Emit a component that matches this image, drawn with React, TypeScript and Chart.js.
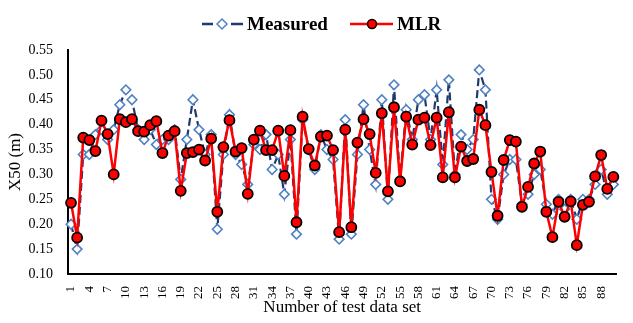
import React, { useEffect, useRef } from "react";
import { Chart, registerables } from "chart.js";
Chart.register(...registerables);

const categories: string[] = Array.from({ length: 90 }, (_, i) => String(i + 1));

const measured: number[] = [
  0.20, 0.15, 0.34, 0.34, 0.38, 0.39, 0.37, 0.39, 0.44, 0.47,
  0.45, 0.39, 0.37, 0.39, 0.36, 0.37, 0.37, 0.39, 0.29, 0.37,
  0.45, 0.39, 0.34, 0.38, 0.19, 0.34, 0.42, 0.34, 0.32, 0.28,
  0.36, 0.35, 0.38, 0.31, 0.34, 0.26, 0.37, 0.18, 0.41, 0.35,
  0.31, 0.38, 0.35, 0.33, 0.17, 0.41, 0.18, 0.34, 0.44, 0.35,
  0.28, 0.45, 0.25, 0.48, 0.29, 0.43, 0.37, 0.45, 0.46, 0.37,
  0.47, 0.32, 0.49, 0.30, 0.38, 0.35, 0.37, 0.51, 0.47, 0.25,
  0.21, 0.30, 0.33, 0.33, 0.24, 0.26, 0.30, 0.31, 0.24, 0.22,
  0.25, 0.23, 0.25, 0.21, 0.25, 0.25, 0.28, 0.31, 0.26, 0.28,
];

const mlr: number[] = [
  0.243, 0.173, 0.374, 0.369, 0.347, 0.408, 0.381, 0.300, 0.411, 0.405,
  0.411, 0.387, 0.386, 0.399, 0.407, 0.343, 0.378, 0.387, 0.267, 0.343,
  0.345, 0.350, 0.328, 0.372, 0.225, 0.355, 0.409, 0.346, 0.353, 0.261,
  0.370, 0.388, 0.349, 0.349, 0.388, 0.297, 0.389, 0.204, 0.416, 0.351,
  0.318, 0.376, 0.378, 0.349, 0.184, 0.390, 0.194, 0.364, 0.411, 0.381,
  0.303, 0.423, 0.266, 0.435, 0.286, 0.416, 0.360, 0.410, 0.414, 0.359,
  0.414, 0.294, 0.425, 0.294, 0.356, 0.327, 0.331, 0.430, 0.399, 0.305,
  0.217, 0.329, 0.369, 0.366, 0.235, 0.275, 0.322, 0.346, 0.225, 0.174,
  0.245, 0.215, 0.246, 0.158, 0.239, 0.245, 0.296, 0.339, 0.271, 0.295,
];

const seriesNames = ["Measured", "MLR"];
const yMin = 0.1;
const yMax = 0.55;
const yStep = 0.05;

const NAVY = "#1f3a6e";
const DIAMOND = "#4f81c4";
const RED = "#ff0000";
const FONT = "'Liberation Serif', 'Times New Roman', serif";

const legendPlugin = {
  id: "customLegend",
  afterDraw(chart: any) {
    const ctx = chart.ctx as CanvasRenderingContext2D;
    const cy = 24;
    ctx.save();
    ctx.strokeStyle = NAVY;
    ctx.lineWidth = 2.5;
    ctx.beginPath();
    ctx.moveTo(202, cy);
    ctx.lineTo(213, cy);
    ctx.moveTo(231, cy);
    ctx.lineTo(243, cy);
    ctx.stroke();
    ctx.strokeStyle = DIAMOND;
    ctx.lineWidth = 1.5;
    ctx.fillStyle = "#ffffff";
    ctx.beginPath();
    ctx.moveTo(222, cy - 5);
    ctx.lineTo(227, cy);
    ctx.lineTo(222, cy + 5);
    ctx.lineTo(217, cy);
    ctx.closePath();
    ctx.fill();
    ctx.stroke();
    ctx.fillStyle = "#000000";
    ctx.font = `bold 19px ${FONT}`;
    ctx.textBaseline = "middle";
    ctx.textAlign = "left";
    ctx.fillText(seriesNames[0], 247, cy + 1);
    ctx.strokeStyle = RED;
    ctx.lineWidth = 2.5;
    ctx.beginPath();
    ctx.moveTo(350, cy);
    ctx.lineTo(393, cy);
    ctx.stroke();
    ctx.fillStyle = RED;
    ctx.strokeStyle = "#000000";
    ctx.lineWidth = 1.5;
    ctx.beginPath();
    ctx.arc(372, cy, 4.5, 0, Math.PI * 2);
    ctx.fill();
    ctx.stroke();
    ctx.fillStyle = "#000000";
    ctx.fillText(seriesNames[1], 397, cy + 1);
    ctx.restore();
  },
};

export default function App() {
  const ref = useRef<HTMLCanvasElement>(null);
  useEffect(() => {
    const chart = new Chart(ref.current!, {
      type: "line",
      data: {
        labels: categories,
        datasets: [
          {
            label: seriesNames[1],
            data: mlr,
            order: 0,
            borderColor: RED,
            borderWidth: 2.5,
            pointStyle: "circle",
            pointRadius: 5,
            pointBackgroundColor: RED,
            pointBorderColor: "#000000",
            pointBorderWidth: 1.8,
            tension: 0,
          },
          {
            label: seriesNames[0],
            data: measured,
            order: 1,
            borderColor: NAVY,
            borderWidth: 2.2,
            borderDash: [8, 4],
            pointStyle: "rectRot",
            pointRadius: 4.8,
            pointBackgroundColor: "#ffffff",
            pointBorderColor: DIAMOND,
            pointBorderWidth: 1.6,
            tension: 0,
          },
        ],
      },
      options: {
        responsive: false,
        animation: false,
        events: [],
        layout: { padding: { top: 50, right: 4, left: 0, bottom: 0 } },
        plugins: { legend: { display: false }, tooltip: { enabled: false } },
        scales: {
          x: {
            offset: true,
            grid: { display: false },
            border: { display: true, color: "#000000", width: 2 },
            ticks: {
              autoSkip: false,
              maxRotation: 90,
              minRotation: 90,
              padding: 4,
              color: "#000000",
              font: { family: FONT, size: 13 },
              callback: (_v: any, i: number) => (i % 3 === 0 ? categories[i] : ""),
            },
            title: {
              display: true,
              text: "Number of test data set",
              color: "#000000",
              font: { family: FONT, size: 17 },
              padding: { top: 0, bottom: 5 },
            },
            afterFit: (s: any) => {
              s.height = 49;
            },
          },
          y: {
            min: yMin,
            max: yMax,
            grid: { display: false },
            border: { display: true, color: "#000000", width: 2 },
            ticks: {
              stepSize: yStep,
              padding: 7,
              color: "#000000",
              font: { family: FONT, size: 14 },
              callback: (v: any) => Number(v).toFixed(2),
            },
            title: {
              display: true,
              text: "X50 (m)",
              color: "#000000",
              font: { family: FONT, size: 17 },
              padding: { top: 5, bottom: 0 },
            },
            afterFit: (s: any) => {
              s.width = 68;
            },
          },
        },
      },
      plugins: [legendPlugin],
    });
    return () => chart.destroy();
  }, []);
  return (
    <div style={{ position: "fixed", left: 0, top: 0, width: 633, height: 323, background: "#fff" }}>
      <canvas ref={ref} width={633} height={323} style={{ display: "block" }} />
    </div>
  );
}
